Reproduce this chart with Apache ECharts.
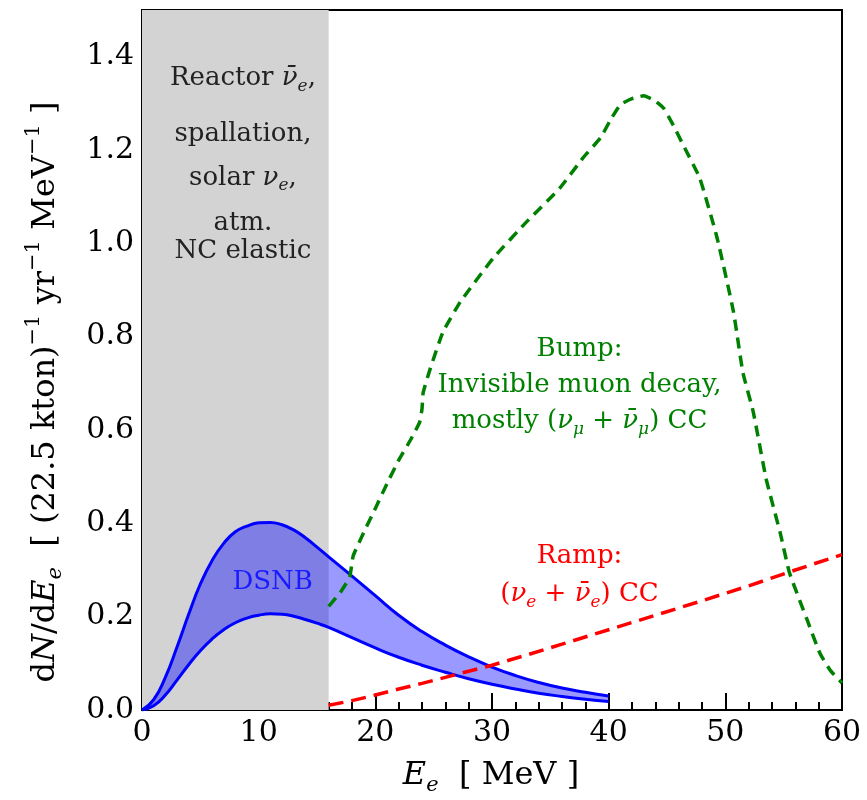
<!DOCTYPE html>
<html>
<head>
<meta charset="utf-8">
<script src="https://cdn.jsdelivr.net/npm/echarts@6/dist/echarts.min.js"></script>
<style>
html, body { margin: 0; padding: 0; background: #fff; }
#chart { width: 867px; height: 800px; }
</style>
</head>
<body>
<div id="chart"></div>
<script>
// DSNB band: upper and lower edge, E in MeV
const dsnbE =     [0, 1, 2, 3, 4, 5, 6, 7, 8, 9, 10, 11, 12, 13, 14, 15, 16, 18, 20, 22, 24, 26, 28, 30, 32, 34, 36, 38, 40];
const dsnbUpper = [0, 0.022, 0.07, 0.135, 0.205, 0.27, 0.32, 0.357, 0.382, 0.394, 0.401, 0.402, 0.397, 0.386, 0.369, 0.349, 0.328, 0.287, 0.245, 0.203, 0.168, 0.139, 0.114, 0.092, 0.074, 0.059, 0.047, 0.038, 0.03];
const dsnbLower = [0, 0.009, 0.032, 0.064, 0.097, 0.127, 0.152, 0.172, 0.187, 0.197, 0.203, 0.206, 0.205, 0.201, 0.194, 0.186, 0.177, 0.155, 0.133, 0.113, 0.096, 0.081, 0.067, 0.055, 0.045, 0.036, 0.029, 0.023, 0.018];

// Ramp: (nu_e + nubar_e) CC
const rampE =   [16, 18, 20, 22, 24, 26, 28, 30, 33, 36, 40, 44, 48, 52, 56, 60];
const rampVal = [0.01, 0.02, 0.032, 0.045, 0.057, 0.07, 0.083, 0.096, 0.118, 0.141, 0.172, 0.203, 0.234, 0.266, 0.3, 0.333];

// Bump: invisible muon decay
const bumpE =   [16, 17, 17.8, 18.1, 19, 20, 21, 22, 23, 23.8, 24, 24.1, 24.7, 25.8, 27.3, 30.1, 33, 35.8, 37.8, 39.3, 40.1, 41, 42, 43, 44, 44.7, 45.5, 46.4, 47.8, 49.3, 50.7, 51.5, 52.4, 53.5, 54.7, 55.5, 57, 58.1, 59, 60];
const bumpVal = [0.222, 0.252, 0.285, 0.33, 0.38, 0.432, 0.485, 0.535, 0.578, 0.617, 0.645, 0.68, 0.731, 0.81, 0.875, 0.968, 1.047, 1.118, 1.183, 1.226, 1.262, 1.297, 1.31, 1.316, 1.305, 1.29, 1.255, 1.21, 1.14, 1.011, 0.853, 0.724, 0.638, 0.495, 0.38, 0.294, 0.194, 0.122, 0.085, 0.058];

// background region (reactor, spallation, solar...)
const bgRange = [0, 16];

const zip = (xs, ys) => xs.map((x, i) => [x, ys[i]]);

const FONT = 'DejaVu Serif';

function rich(size, color) {
  const s = Math.round(size * 0.65);
  const base = { fontSize: size, fontFamily: FONT, fill: color, color: color, lineHeight: Math.round(size * 1.2), verticalAlign: 'middle' };
  return {
    t: base,
    i: Object.assign({}, base, { fontStyle: 'italic' }),
    sub: { fontSize: s, fontFamily: FONT, fontStyle: 'italic', fill: color, color: color, lineHeight: s, padding: [Math.round(size * 0.6), 0, 0, 0], verticalAlign: 'middle' },
    sup: { fontSize: s, fontFamily: FONT, fill: color, color: color, lineHeight: s, padding: [0, 0, Math.round(size * 0.75), 0], verticalAlign: 'middle' }
  };
}

const NU = 'ν', NUBAR = 'ν\u0304';
const notes = [
  { x: 8.65, y: 1.353, color: '#222', text: '{t|Reactor }{i|' + NUBAR + '}{sub|e}{t|,}' },
  { x: 8.65, y: 1.234, color: '#222', text: '{t|spallation,}' },
  { x: 8.65, y: 1.14,  color: '#222', text: '{t|solar }{i|' + NU + '}{sub|e}{t|,}' },
  { x: 8.65, y: 1.043, color: '#222', text: '{t|atm.}' },
  { x: 8.65, y: 0.983, color: '#222', text: '{t|NC elastic}' },
  { x: 11.2, y: 0.273, color: '#1a1aff', text: '{t|DSNB}' },
  { x: 37.5, y: 0.774, color: '#008000', text: '{t|Bump:}' },
  { x: 37.5, y: 0.695, color: '#008000', text: '{t|Invisible muon decay,}' },
  { x: 37.5, y: 0.619, color: '#008000', text: '{t|mostly (}{i|' + NU + '}{sub|μ}{t| + }{i|' + NUBAR + '}{sub|μ}{t|) CC}' },
  { x: 37.5, y: 0.33,  color: '#ff0000', text: '{t|Ramp:}' },
  { x: 37.5, y: 0.247, color: '#ff0000', text: '{t|(}{i|' + NU + '}{sub|e}{t| + }{i|' + NUBAR + '}{sub|e}{t|) CC}' }
];

const chart = echarts.init(document.getElementById('chart'));

const tickLabel = { color: '#000', fontSize: 30, fontFamily: FONT, margin: 8 };

// fill between the two DSNB curves, drawn through the axis scales
function renderBand(params, api) {
  const pts = [];
  for (let i = 0; i < dsnbE.length; i++) pts.push(api.coord([dsnbE[i], dsnbUpper[i]]));
  for (let i = dsnbE.length - 1; i >= 0; i--) pts.push(api.coord([dsnbE[i], dsnbLower[i]]));
  return { type: 'polygon', shape: { points: pts }, style: { fill: 'rgba(0,0,255,0.4)' } };
}

chart.setOption({
  animation: false,
  backgroundColor: '#fff',
  grid: { left: 142, right: 25, top: 10, bottom: 90, show: true, borderColor: '#000', borderWidth: 2, backgroundColor: 'transparent' },
  xAxis: {
    type: 'value', min: 0, max: 60, interval: 10,
    axisLine: { onZero: false, lineStyle: { color: '#000', width: 2 } },
    axisTick: { inside: true, length: 17, lineStyle: { color: '#000', width: 2 } },
    minorTick: { show: true, splitNumber: 5, length: 8, lineStyle: { color: '#000', width: 2 } },
    splitLine: { show: false },
    axisLabel: tickLabel
  },
  yAxis: [
    {
      type: 'value', min: 0, max: 1.5, interval: 0.2,
      axisLine: { onZero: false, lineStyle: { color: '#000', width: 2 } },
      axisTick: { inside: true, length: 17, lineStyle: { color: '#000', width: 2 } },
      splitLine: { show: false },
      axisLabel: Object.assign({}, tickLabel, { showMaxLabel: false, formatter: v => v.toFixed(1) })
    },
    {
      type: 'value', min: 0, max: 1.5, interval: 0.05, position: 'left',
      axisLine: { show: false },
      axisTick: { inside: true, length: 8, lineStyle: { color: '#000', width: 2 } },
      splitLine: { show: false },
      axisLabel: { show: false }
    }
  ],
  series: [
    {
      name: 'background', type: 'line', data: [], z: 0, silent: true,
      markArea: { silent: true, itemStyle: { color: '#d3d3d3', opacity: 1 }, data: [[{ xAxis: bgRange[0] }, { xAxis: bgRange[1] }]] }
    },
    {
      name: 'DSNB band', type: 'custom', z: 2, silent: true,
      data: [[0, 0]],
      renderItem: renderBand
    },
    {
      name: 'DSNB upper', type: 'line', smooth: true, symbol: 'none', z: 3,
      data: zip(dsnbE, dsnbUpper),
      lineStyle: { color: '#0000ff', width: 3 }
    },
    {
      name: 'DSNB lower', type: 'line', smooth: true, symbol: 'none', z: 3,
      data: zip(dsnbE, dsnbLower),
      lineStyle: { color: '#0000ff', width: 3 }
    },
    {
      name: 'Ramp', type: 'line', symbol: 'none', z: 4,
      data: zip(rampE, rampVal),
      lineStyle: { color: '#ff0000', width: 3.5, type: [15, 8] }
    },
    {
      name: 'Bump', type: 'line', symbol: 'none', z: 5, smooth: 0.15,
      data: zip(bumpE, bumpVal),
      lineStyle: { color: '#008000', width: 3.5, type: [11, 7] }
    }
  ]
});

const elements = notes.map(n => {
  const p = chart.convertToPixel({ xAxisIndex: 0, yAxisIndex: 0 }, [n.x, n.y]);
  return {
    type: 'text', x: p[0], y: p[1], z: 20, silent: true,
    style: { text: n.text, rich: rich(26, n.color), fill: n.color, align: 'center', verticalAlign: 'middle', textAlign: 'center', textVerticalAlign: 'middle' }
  };
});

// axis titles
elements.push({
  type: 'text', x: 491, y: 776, z: 20, silent: true,
  style: { text: '{i|E}{sub|e}{t|  [ MeV ]}', rich: rich(32, '#000'), fill: '#000', align: 'center', verticalAlign: 'middle', textAlign: 'center', textVerticalAlign: 'middle' }
});
elements.push({
  type: 'text', x: 46, y: 392, rotation: Math.PI / 2, z: 20, silent: true,
  style: {
    text: '{t|d}{i|N}{t|/d}{i|E}{sub|e}{t|  [ (22.5 kton)}{sup|−1}{t| yr}{sup|−1}{t| MeV}{sup|−1}{t| ]}',
    rich: rich(32, '#000'), fill: '#000', align: 'center', verticalAlign: 'middle', textAlign: 'center', textVerticalAlign: 'middle'
  }
});

chart.setOption({ graphic: { elements: elements } });
</script>
</body>
</html>
